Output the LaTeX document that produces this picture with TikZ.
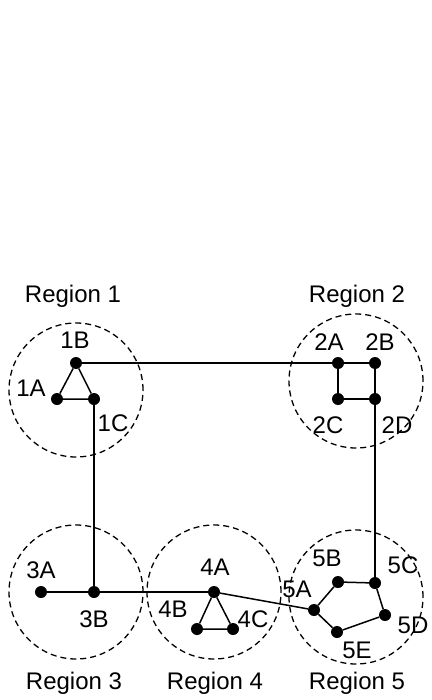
\documentclass[tikz,border=0pt]{standalone}
\usepackage{fontspec}
\setmainfont{Liberation Sans}
\begin{document}
\begin{tikzpicture}[x=1pt,y=-1pt,
  dot/.style={circle,fill=black,inner sep=0pt,minimum size=12pt},
  region/.style={circle,draw,dash pattern=on 6pt off 4pt,line width=1.3pt,minimum size=134pt,inner sep=0pt},
  lbl/.style={inner sep=0pt,font=\fontsize{24}{28}\selectfont},
  edge/.style={line width=1.5pt}]
\useasboundingbox (0,0) rectangle (431,700);
% regions
\node[region] (R1) at (76,390) {};
\node[region] (R2) at (356,381) {};
\node[region] (R3) at (76,592) {};
\node[region] (R4) at (214,592) {};
\node[region] (R5) at (356,597) {};
\node[lbl] (L1) at (73,296) {Region 1};
\node[lbl] (L2) at (357,296) {Region 2};
\node[lbl] (L3) at (74,683) {Region 3};
\node[lbl] (L4) at (215,683) {Region 4};
\node[lbl] (L5) at (357,683) {Region 5};
% vertices
\node[dot] (1A) at (57,399) {};
\node[dot] (1B) at (76,363) {};
\node[dot] (1C) at (94,399) {};
\node[dot] (2A) at (338,363) {};
\node[dot] (2B) at (375,363) {};
\node[dot] (2C) at (338,399) {};
\node[dot] (2D) at (375,399) {};
\node[dot] (3A) at (41,592) {};
\node[dot] (3B) at (94,592) {};
\node[dot] (4A) at (214,592) {};
\node[dot] (4B) at (197,629) {};
\node[dot] (4C) at (233,629) {};
\node[dot] (5A) at (314,610) {};
\node[dot] (5B) at (338,582) {};
\node[dot] (5C) at (375,583) {};
\node[dot] (5D) at (385,615) {};
\node[dot] (5E) at (337,632) {};
% vertex labels
\node[lbl] (t1A) at (31,388) {1A};
\node[lbl] (t1B) at (75,340) {1B};
\node[lbl] (t1C) at (113,423) {1C};
\node[lbl] (t2A) at (329,342) {2A};
\node[lbl] (t2B) at (380,342) {2B};
\node[lbl] (t2C) at (328,425) {2C};
\node[lbl] (t2D) at (397,425) {2D};
\node[lbl] (t3A) at (41,570) {3A};
\node[lbl] (t3B) at (94,619) {3B};
\node[lbl] (t4A) at (215,567) {4A};
\node[lbl] (t4B) at (173,609) {4B};
\node[lbl] (t4C) at (253,619) {4C};
\node[lbl] (t5A) at (297,589) {5A};
\node[lbl] (t5B) at (327,558) {5B};
\node[lbl] (t5C) at (403,565) {5C};
\node[lbl] (t5D) at (413,625) {5D};
\node[lbl] (t5E) at (357,650) {5E};
% edges
\draw[edge] (1A) -- (1B) -- (1C) -- (1A);
\draw[edge] (1B) -- (2A);
\draw[edge] (2A) -- (2B) -- (2D) -- (2C) -- (2A);
\draw[edge] (1C) -- (3B);
\draw[edge] (3A) -- (3B) -- (4A);
\draw[edge] (4A) -- (4B) -- (4C) -- (4A);
\draw[edge] (4A) -- (5A);
\draw[edge] (5A) -- (5B) -- (5C) -- (5D) -- (5E) -- (5A);
\draw[edge] (2D) -- (5C);
\end{tikzpicture}
\end{document}
